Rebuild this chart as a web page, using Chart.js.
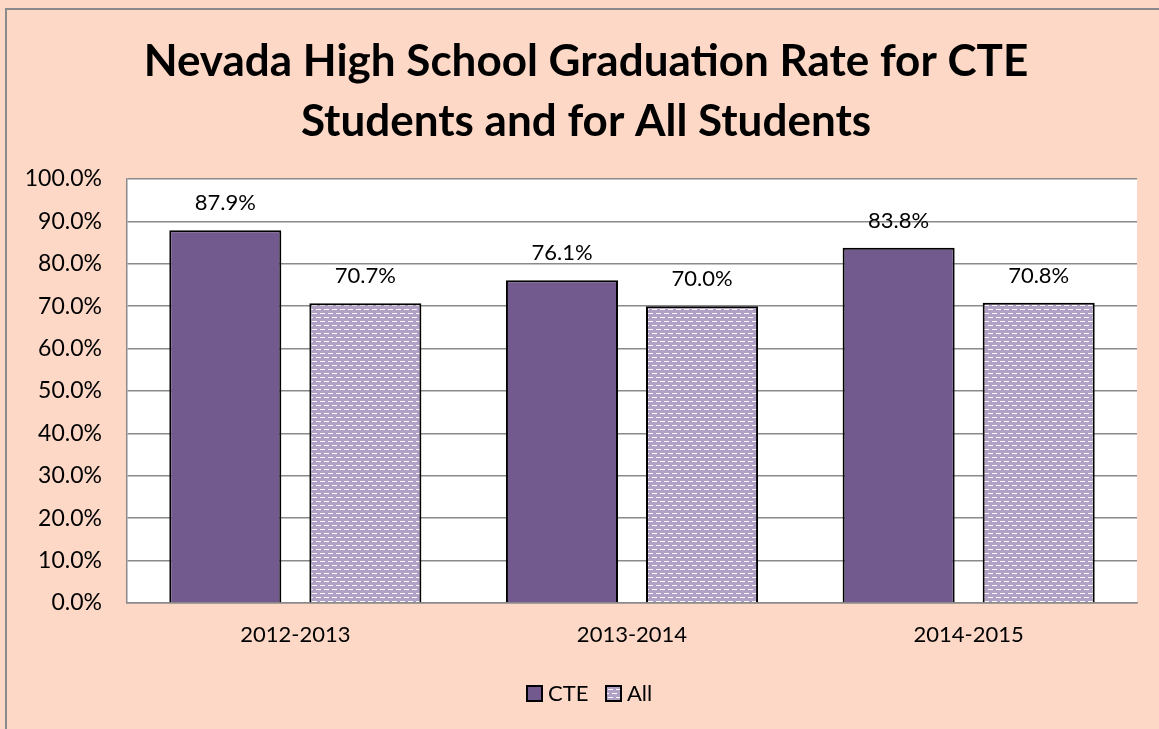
<!DOCTYPE html>
<html>
<head>
<meta charset="utf-8">
<script src="https://cdn.jsdelivr.net/npm/chart.js@4"></script>
<style>
  html, body { margin: 0; padding: 0; background: #FDD8C6; }
  #wrap { width: 1159px; height: 729px; position: relative; }
</style>
</head>
<body>
<div id="wrap"><canvas id="c" width="1159" height="729"></canvas></div>
<script>
const titleLines = ['Nevada High School Graduation Rate for CTE', 'Students and for All Students'];
const categories = ['2012-2013', '2013-2014', '2014-2015'];
const seriesNames = ['CTE', 'All'];
const cteValues = [87.9, 76.1, 83.8];
const allValues = [70.7, 70.0, 70.8];
const yMin = 0, yMax = 100, yStep = 10;

const BG = '#FDD8C6';
const CTE_COLOR = '#72598E';
const ALL_BASE = '#B2A1C7';
const FONT = 'Lato, "Open Sans", sans-serif';

function makePattern() {
  const t = document.createElement('canvas');
  t.width = 8; t.height = 8;
  const g = t.getContext('2d');
  g.fillStyle = ALL_BASE; g.fillRect(0, 0, 8, 8);
  g.fillStyle = '#ffffff';
  g.fillRect(0, 1, 5, 1);
  g.fillRect(4, 5, 5, 1);
  g.fillRect(0, 5, 1, 1);
  return document.getElementById('c').getContext('2d').createPattern(t, 'repeat');
}
const allPattern = makePattern();

const framePlugin = {
  id: 'frame',
  beforeDraw(chart) {
    const ctx = chart.ctx, a = chart.chartArea;
    ctx.save();
    ctx.fillStyle = BG;
    ctx.fillRect(0, 0, chart.width, chart.height);
    ctx.strokeStyle = '#8a8a8a';
    ctx.lineWidth = 2;
    ctx.strokeRect(6, 9, chart.width + 20, chart.height + 20);
    ctx.fillStyle = '#ffffff';
    ctx.fillRect(a.left, a.top, a.right - a.left, a.bottom - a.top);
    ctx.restore();
  },
  afterDraw(chart) {
    const ctx = chart.ctx;
    ctx.save();
    // title
    ctx.fillStyle = '#000';
    ctx.font = 'bold 44px ' + FONT;
    ctx.textAlign = 'center';
    ctx.textBaseline = 'middle';
    titleLines.forEach((l, i) => ctx.fillText(l, 586, 62 + i * 60));
    // legend
    ctx.font = '22px ' + FONT;
    ctx.textAlign = 'left';
    const items = [
      { x: 527, fill: CTE_COLOR, text: seriesNames[0] },
      { x: 606, fill: allPattern, text: seriesNames[1] }
    ];
    items.forEach(it => {
      ctx.fillStyle = it.fill;
      ctx.fillRect(it.x, 686, 15, 15);
      ctx.strokeStyle = '#000';
      ctx.lineWidth = 2;
      ctx.strokeRect(it.x, 686, 15, 15);
      ctx.fillStyle = '#000';
      ctx.fillText(it.text, it.x + 21, 694);
    });
    ctx.restore();
  },
  afterDatasetsDraw(chart) {
    const ctx = chart.ctx;
    ctx.save();
    ctx.fillStyle = '#000';
    ctx.font = '22px ' + FONT;
    ctx.textAlign = 'center';
    ctx.textBaseline = 'middle';
    chart.data.datasets.forEach((ds, di) => {
      chart.getDatasetMeta(di).data.forEach((bar, i) => {
        ctx.fillText(ds.data[i].toFixed(1) + '%', bar.x, bar.y - 27);
      });
    });
    ctx.restore();
  }
};

new Chart(document.getElementById('c'), {
  type: 'bar',
  data: {
    labels: categories,
    datasets: [
      { label: seriesNames[0], data: cteValues, backgroundColor: CTE_COLOR, borderColor: '#000', borderWidth: 2 },
      { label: seriesNames[1], data: allValues, backgroundColor: allPattern, borderColor: '#000', borderWidth: 2 }
    ]
  },
  options: {
    responsive: false,
    animation: false,
    events: [],
    layout: { padding: { top: 179, left: 0, right: 22, bottom: 66 } },
    categoryPercentage: 0.832,
    barPercentage: 0.8,
    plugins: { legend: { display: false }, title: { display: false }, tooltip: { enabled: false } },
    scales: {
      x: {
        grid: { display: false },
        border: { display: true, color: '#8a8a8a', width: 1.5 },
        ticks: { color: '#000', font: { family: FONT, size: 22 }, padding: 11 },
        afterFit(s) { s.height = 60; }
      },
      y: {
        min: yMin, max: yMax,
        grid: { color: '#8a8a8a', lineWidth: 1.5, drawTicks: false },
        border: { display: true, color: '#8a8a8a', width: 1.5 },
        ticks: { stepSize: yStep, color: '#000', font: { family: FONT, size: 23 }, padding: 25,
          callback: v => v.toFixed(1) + '%' },
        afterFit(s) { s.width = 127; }
      }
    }
  },
  plugins: [framePlugin]
});
</script>
</body>
</html>
